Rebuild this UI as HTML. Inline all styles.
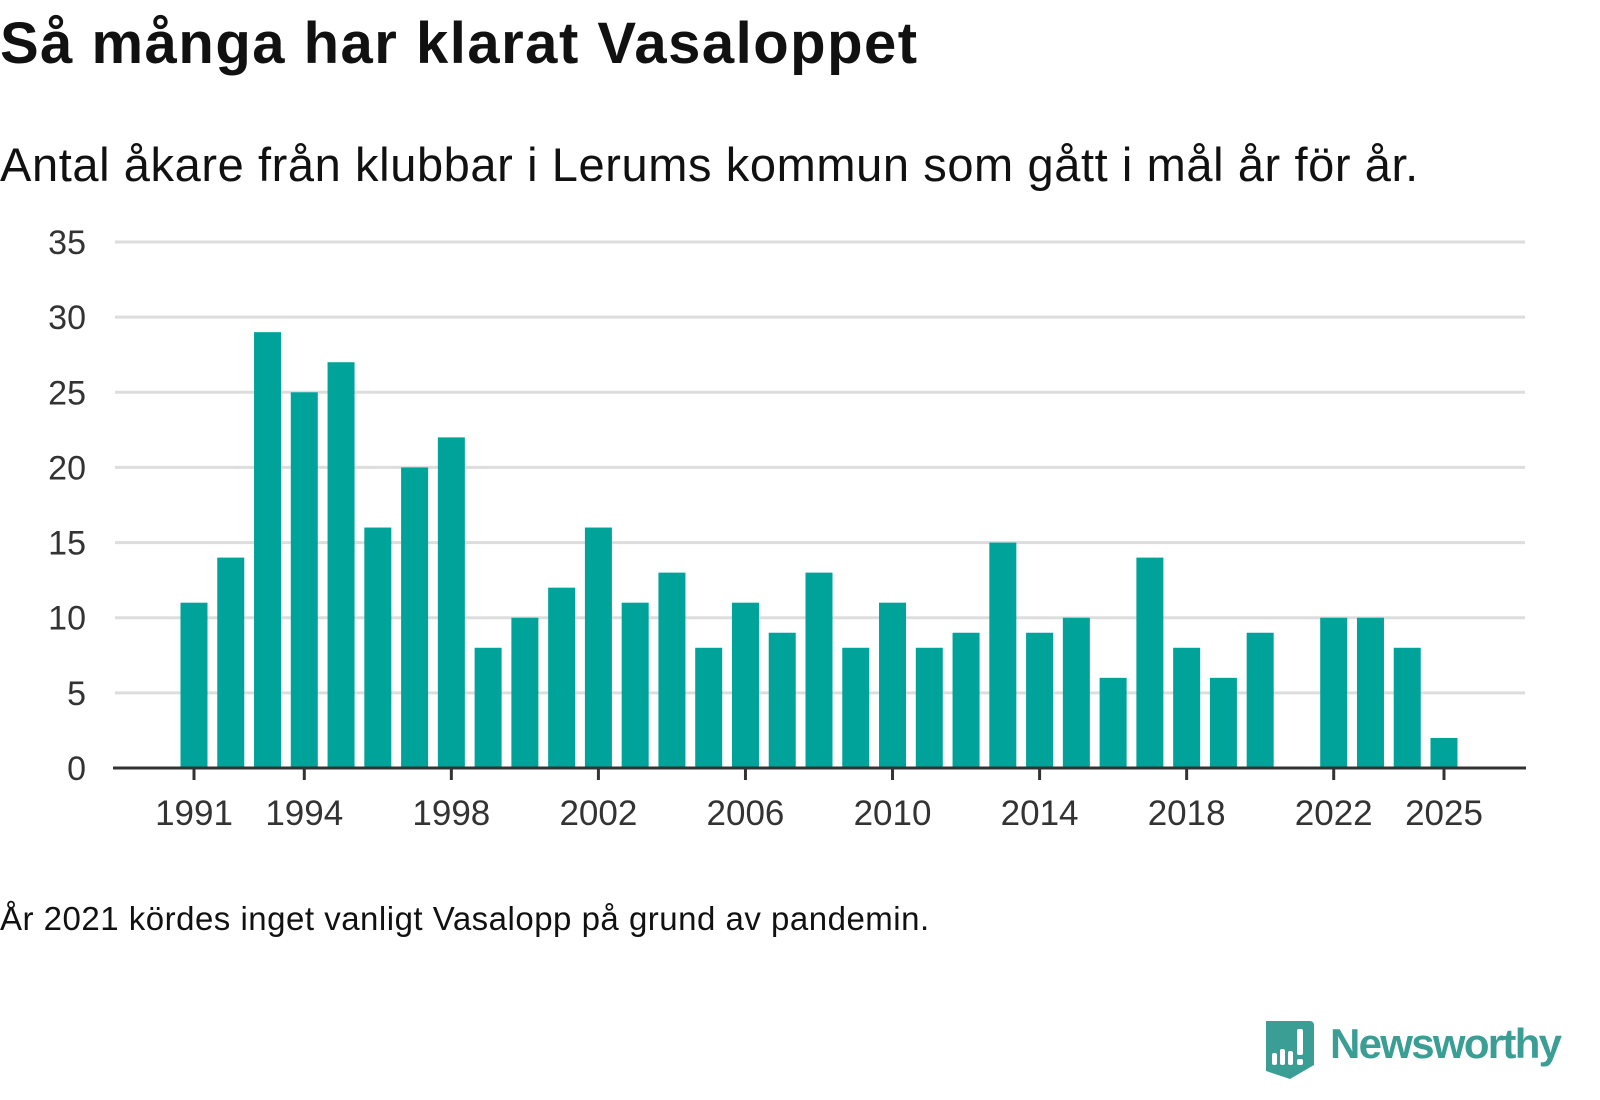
<!DOCTYPE html>
<html><head><meta charset="utf-8"><style>
body{margin:0;width:1600px;height:1100px;background:#fff;font-family:"Liberation Sans",sans-serif;overflow:hidden;position:relative}
.t{position:absolute;left:0;color:#111;white-space:nowrap}
</style></head><body>
<div class="t" style="top:10px;font-size:58px;font-weight:bold;letter-spacing:1.5px">Så många har klarat Vasaloppet</div>
<div class="t" style="top:137px;font-size:47px;letter-spacing:0.6px">Antal åkare från klubbar i Lerums kommun som gått i mål år för år.</div>
<svg id="chart" width="1600" height="860" style="position:absolute;left:0;top:0"></svg>
<div class="t" style="top:900px;font-size:33px;letter-spacing:0.5px">År 2021 kördes inget vanligt Vasalopp på grund av pandemin.</div>
<svg width="330" height="70" style="position:absolute;left:1250px;top:1015px">
<path d="M16,6 h44 a4,4 0 0 1 4,4 v40 l-24,14 l-24,-8 z" fill="#3a9e95"/>
<rect x="22" y="38" width="5" height="12" rx="2" fill="#fff"/><rect x="30" y="34" width="5" height="16" rx="2" fill="#fff"/><rect x="38" y="36" width="5" height="14" rx="2" fill="#fff"/><rect x="47" y="14" width="6" height="26" rx="2" fill="#fff"/><rect x="47" y="44" width="6" height="6" rx="2" fill="#fff"/>
<text x="80" y="43" font-family="Liberation Sans, sans-serif" font-size="42" font-weight="bold" fill="#3a9e95" textLength="232">Newsworthy</text>
</svg>
<script>
const years=[1991,1992,1993,1994,1995,1996,1997,1998,1999,2000,2001,2002,2003,2004,2005,2006,2007,2008,2009,2010,2011,2012,2013,2014,2015,2016,2017,2018,2019,2020,2021,2022,2023,2024,2025];
const values=[11,14,29,25,27,16,20,22,8,10,12,16,11,13,8,11,9,13,8,11,8,9,15,9,10,6,14,8,6,9,null,10,10,8,2];
const yTicks=[0,5,10,15,20,25,30,35];
const xTicks=[1991,1994,1998,2002,2006,2010,2014,2018,2022,2025];
const svg=document.getElementById('chart');const NS='http://www.w3.org/2000/svg';
const x=y=>194+(y-1991)*(1444-194)/34;
const yS=v=>768-v*(768-242)/35;
function mk(t,a,p){const e=document.createElementNS(NS,t);for(const k in a)e.setAttribute(k,a[k]);(p||svg).appendChild(e);return e;}
yTicks.forEach(v=>{
 if(v>0){const g=mk('line',{x1:115,x2:1525,y1:yS(v),y2:yS(v),stroke:'#ddd','stroke-width':3});
 
 }
 const t=mk('text',{x:86,y:yS(v)+12,'text-anchor':'end','font-size':34,fill:'#333','font-family':'Liberation Sans, sans-serif'});t.textContent=v;
 
 
});
years.forEach((yr,i)=>{const v=values[i];if(v==null)return;
 const r=mk('rect',{x:x(yr)-13.5,y:yS(v),width:27,height:yS(0)-yS(v),fill:'#00a39a'});
 
 
});
const ax=mk('line',{x1:113,x2:1526,y1:768,y2:768,stroke:'#333','stroke-width':3});


xTicks.forEach(yr=>{
 const tk=mk('line',{x1:x(yr),x2:x(yr),y1:768,y2:780,stroke:'#333','stroke-width':3});
 
 
 const t=mk('text',{x:x(yr),y:825,'text-anchor':'middle','font-size':35,fill:'#333','font-family':'Liberation Sans, sans-serif'});t.textContent=yr;
 
 
});
</script>
</body></html>
